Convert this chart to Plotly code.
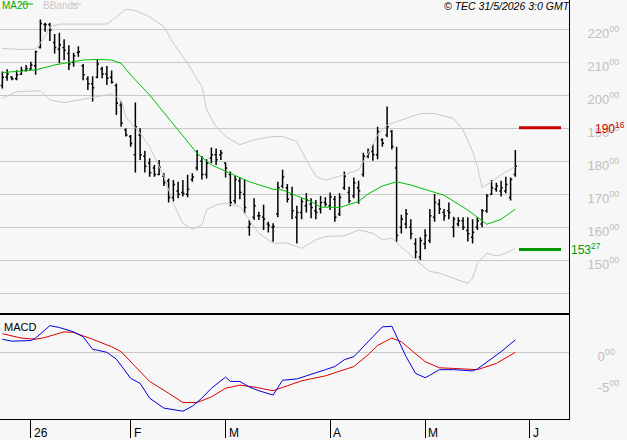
import plotly.graph_objects as go
from plotly.subplots import make_subplots

# ---------------- data ----------------
highs = [207.2, 207.9, 205.8, 207.6, 208.7, 209.2, 210.2, 213.5, 223.0, 222.0,
         222.0, 218.6, 219.0, 217.0, 215.2, 212.9, 214.9, 209.5, 205.8, 205.8,
         210.9, 208.7, 208.9, 207.5, 203.6, 198.1, 190.0, 188.0, 197.8, 190.0,
         183.2, 180.9, 178.9, 180.4, 176.4, 174.8, 174.3, 173.8, 174.3, 175.9,
         176.4, 183.4, 181.6, 180.6, 184.2, 183.9, 183.4, 179.6, 176.9, 175.6,
         175.1, 174.5, 162.2, 168.8, 164.7, 166.8, 161.7, 161.2, 173.8, 177.4,
         173.1, 172.3, 166.5, 168.8, 170.4, 168.8, 168.3, 169.5, 169.1, 170.5,
         169.5, 170.3, 176.9, 172.3, 175.1, 174.1, 182.6, 183.9, 185.2, 190.5,
         187.0, 196.6, 189.5, 184.4, 163.8, 165.5, 162.4, 156.7, 157.0, 159.4,
         165.5, 170.1, 168.5, 165.5, 167.5, 163.2, 163.0, 163.0, 163.0, 162.4,
         163.0, 165.5, 170.1, 174.3, 173.5, 174.1, 175.3, 175.1, 183.4]
lows = [202.1, 204.4, 204.6, 204.6, 206.2, 207.2, 207.7, 206.2, 214.2, 219.3,
        216.5, 212.7, 209.7, 210.7, 207.7, 208.7, 211.7, 204.6, 201.6, 198.1,
        205.2, 205.2, 203.1, 203.6, 194.0, 190.5, 187.5, 184.4, 176.6, 180.4,
        176.6, 175.3, 175.3, 175.8, 172.5, 167.5, 167.8, 168.8, 169.3, 169.1,
        173.8, 177.2, 174.5, 174.8, 179.4, 178.9, 180.4, 175.1, 166.4, 167.1,
        168.5, 164.2, 157.4, 162.2, 162.2, 159.2, 158.4, 155.6, 163.0, 171.8,
        167.5, 162.4, 155.1, 162.4, 164.5, 162.7, 162.4, 164.2, 166.3, 165.2,
        161.7, 163.4, 171.3, 167.3, 168.8, 167.1, 175.3, 180.9, 180.2, 180.6,
        184.4, 187.3, 183.6, 155.6, 158.1, 159.6, 156.4, 150.6, 150.1, 153.3,
        155.2, 161.7, 164.0, 162.0, 162.4, 157.0, 160.2, 159.2, 155.7, 155.1,
        159.2, 160.0, 164.4, 169.8, 170.8, 169.3, 170.3, 168.1, 175.3]
opens = [203.0, 205.5, 205.5, 205.0, 206.4, 207.5, 208.0, 209.0, 214.5, 221.5,
         221.5, 216.0, 214.0, 214.5, 212.7, 210.0, 213.0, 209.0, 205.0, 203.5,
         205.5, 208.0, 206.5, 205.5, 203.0, 197.0, 189.5, 187.5, 182.0, 188.0,
         181.5, 179.5, 178.0, 176.0, 175.5, 174.0, 169.0, 171.0, 170.5, 170.0,
         174.5, 178.0, 180.0, 176.0, 181.0, 182.0, 182.0, 179.5, 176.0, 168.0,
         174.0, 170.0, 160.0, 163.0, 163.5, 163.0, 161.0, 160.0, 164.0, 172.5,
         172.0, 170.0, 163.0, 164.5, 166.5, 167.0, 165.0, 165.5, 167.5, 166.5,
         168.5, 164.0, 172.0, 170.5, 169.5, 172.0, 176.0, 181.5, 183.0, 182.0,
         186.5, 188.0, 189.0, 178.0, 160.0, 161.0, 160.0, 155.0, 151.0, 155.0,
         156.0, 163.0, 167.0, 164.5, 165.0, 160.0, 161.0, 162.0, 159.0, 157.0,
         160.0, 161.0, 165.0, 170.0, 171.5, 171.0, 171.0, 169.0, 176.0]
closes = [205.5, 206.5, 205.0, 206.2, 207.6, 208.1, 209.2, 213.2, 221.8, 221.5,
          219.7, 214.5, 215.3, 213.7, 209.5, 212.0, 213.2, 206.2, 203.5, 202.3,
          209.5, 206.5, 205.2, 204.0, 197.6, 191.5, 188.0, 185.4, 190.5, 182.0,
          178.5, 176.5, 176.0, 178.3, 173.5, 169.0, 173.0, 170.0, 170.2, 171.5,
          175.2, 182.0, 176.0, 179.5, 182.0, 180.5, 182.5, 178.0, 167.5, 174.5,
          170.5, 166.0, 161.0, 166.5, 163.5, 162.5, 160.5, 160.2, 172.0, 175.2,
          168.5, 165.0, 164.5, 167.8, 168.3, 166.0, 164.5, 167.5, 167.0, 169.2,
          163.0, 169.0, 175.5, 168.0, 173.5, 171.0, 181.5, 182.5, 182.0, 189.0,
          185.5, 190.5, 184.5, 157.5, 162.5, 164.0, 158.0, 152.5, 156.0, 157.5,
          163.5, 167.5, 165.5, 163.5, 164.5, 162.5, 162.0, 160.0, 158.0, 158.5,
          162.0, 165.0, 169.5, 172.0, 172.5, 172.0, 173.0, 174.5, 178.5]

ma20_idx = [0, 3, 7, 11, 14, 17, 20, 23, 25, 27, 31, 35, 38, 41, 44, 46, 48, 52,
            57, 59, 62, 65, 67, 71, 75, 77, 80, 83, 86, 91, 93, 98, 102, 105, 108]
ma20_val = [206.9, 207.2, 207.7, 209.2, 210.0, 210.7, 210.9, 210.7, 209.7, 206.2,
            200.1, 193.0, 187.5, 182.4, 178.9, 177.6, 176.2, 173.8, 171.5, 171.3,
            169.5, 167.8, 166.1, 166.0, 167.8, 170.1, 172.5, 173.8, 172.8, 170.5,
            169.7, 165.2, 160.9, 162.4, 165.5]

bb_up_idx = [0, 4, 7, 9, 10, 12, 16, 22, 24, 26, 28, 31, 34, 36, 39, 42, 43, 45,
             47, 50, 53, 57, 59, 62, 64, 66, 68, 72, 75, 77, 79, 81, 84, 88, 91,
             95, 97, 99, 100, 101, 103, 105, 108]
bb_up_val = [214.2, 213.9, 214.0, 217.8, 220.8, 221.6, 221.6, 221.6, 223.8, 226.1,
             225.7, 223.8, 220.8, 215.8, 209.7, 202.6, 195.6, 190.5, 187.5, 185.0,
             186.5, 187.5, 187.5, 186.0, 180.4, 175.4, 174.3, 175.9, 177.4, 182.4,
             188.0, 191.0, 192.5, 194.5, 194.5, 193.0, 189.5, 183.0, 178.5, 172.0,
             173.8, 175.9, 178.4]

bb_lo_idx = [0, 3, 8, 10, 13, 16, 20, 23, 25, 26, 29, 31, 34, 36, 38, 40, 42, 43,
             45, 47, 50, 52, 54, 57, 60, 63, 66, 68, 72, 75, 78, 80, 82, 84, 87,
             90, 92, 95, 98, 99, 100, 102, 104, 106, 108]
bb_lo_val = [199.1, 201.1, 201.4, 198.6, 197.8, 198.6, 199.5, 200.4, 198.6, 193.5,
             188.5, 184.4, 175.4, 167.3, 161.2, 159.4, 160.7, 165.3, 166.8, 167.3,
             166.3, 162.2, 158.2, 155.2, 155.2, 153.6, 156.2, 157.2, 157.4, 159.2,
             158.2, 156.2, 156.7, 154.1, 150.1, 146.6, 146.1, 144.5, 143.0, 144.5,
             149.1, 152.1, 151.3, 152.1, 153.6]

macd_idx = [0, 2, 6, 7, 10, 12, 15, 17, 19, 22, 24, 27, 29, 31, 34, 36, 38, 40,
            42, 44, 47, 48, 50, 52, 54, 57, 59, 62, 65, 68, 70, 72, 74, 77, 80,
            82, 83, 85, 87, 89, 90, 92, 95, 99, 100, 105, 108]
macd_val = [2.1, 1.8, 1.9, 2.3, 4.3, 4.0, 3.3, 2.5, 0.5, 0.0, -1.1, -4.2, -5.0,
            -7.4, -9.0, -9.3, -9.5, -8.7, -7.4, -5.8, -4.0, -4.7, -4.7, -5.6,
            -6.2, -6.9, -4.5, -4.3, -3.5, -2.8, -2.3, -1.2, -0.7, 1.7, 4.1, 4.2,
            2.5, -0.7, -3.4, -4.1, -3.7, -2.8, -2.8, -3.0, -2.7, 0.1, 2.0]

signal_idx = [0, 4, 7, 9, 13, 15, 19, 23, 25, 28, 31, 35, 38, 41, 44, 47, 50, 53,
              57, 60, 63, 68, 74, 77, 79, 82, 84, 89, 92, 95, 100, 104, 108]
signal_val = [3.0, 2.3, 2.1, 2.4, 3.3, 3.2, 2.1, 0.9, 0.1, -2.3, -4.7, -6.6, -8.1,
              -8.1, -7.2, -5.8, -5.3, -5.6, -6.2, -5.4, -4.6, -3.8, -2.3, -0.4,
              1.1, 2.3, 1.7, -1.5, -2.5, -2.6, -2.8, -1.8, 0.0]

month_idx = [6, 27, 47, 69, 89, 111]
month_labels = ["26", "F", "M", "A", "M", "J"]

price_ticks = [140, 150, 160, 170, 180, 190, 200, 210, 220]
price_ticktext = ["" if v == 140 else f"{v}<sup>00</sup>" for v in price_ticks]
macd_ticks = [0, -5]
macd_ticktext = ["0<sup>00</sup>", "-5<sup>00</sup>"]

resistance = 190.16
support = 153.27

# ---------------- figure ----------------
FONT = "Liberation Sans, Arial, sans-serif"
BG = "#f7f7f7"
x = list(range(len(closes)))

fig = make_subplots(rows=2, cols=1, shared_xaxes=True, vertical_spacing=0,
                    row_heights=[314, 105])

fig.add_trace(go.Scatter(x=bb_up_idx, y=bb_up_val, mode="lines",
                         line=dict(color="#c8c8c8", width=1), hoverinfo="skip"), row=1, col=1)
fig.add_trace(go.Scatter(x=bb_lo_idx, y=bb_lo_val, mode="lines",
                         line=dict(color="#c8c8c8", width=1), hoverinfo="skip"), row=1, col=1)
fig.add_trace(go.Scatter(x=ma20_idx, y=ma20_val, mode="lines",
                         line=dict(color="#00c000", width=1), hoverinfo="skip"), row=1, col=1)
fig.add_trace(go.Ohlc(x=x, open=opens, high=highs, low=lows, close=closes,
                      increasing=dict(line=dict(color="black", width=1.5)),
                      decreasing=dict(line=dict(color="black", width=1.5)),
                      tickwidth=0.35), row=1, col=1)

fig.add_trace(go.Scatter(x=signal_idx, y=signal_val, mode="lines",
                         line=dict(color="#dd0000", width=1)), row=2, col=1)
fig.add_trace(go.Scatter(x=macd_idx, y=macd_val, mode="lines",
                         line=dict(color="#0000dd", width=1)), row=2, col=1)

xr = [-0.5, 119.3]
fig.update_layout(
    width=627, height=440,
    margin=dict(l=0, r=58, t=0, b=21),
    paper_bgcolor=BG, plot_bgcolor=BG,
    showlegend=False,
    font=dict(family=FONT, size=12, color="black"),
    xaxis=dict(range=xr, showgrid=False, zeroline=False, showticklabels=False,
               rangeslider=dict(visible=False), fixedrange=True),
    xaxis2=dict(range=xr, showgrid=False, zeroline=False, showticklabels=False,
                tickmode="array", tickvals=month_idx, ticks="outside", ticklen=18,
                tickcolor="black", tickwidth=1, showline=True, linecolor="black",
                linewidth=1),
    yaxis=dict(side="right", range=[133.7, 228.9], tickmode="array",
               tickvals=price_ticks, ticktext=price_ticktext, showgrid=True,
               gridcolor="#c8c8c8", gridwidth=1, zeroline=False, showline=True,
               linecolor="black", linewidth=1, ticks="",
               tickfont=dict(color="#c0c0c0", size=13, family=FONT),
               ticklabelstandoff=15, ticklabelshift=4),
    yaxis2=dict(side="right", range=[-10.76, 6.18], tickmode="array",
                tickvals=macd_ticks, ticktext=macd_ticktext, showgrid=False,
                zeroline=True, zerolinecolor="#c8c8c8", zerolinewidth=1,
                showline=True, linecolor="black", linewidth=1, ticks="",
                tickfont=dict(color="#c0c0c0", size=13, family=FONT),
                ticklabelstandoff=25, ticklabelshift=4),
)

# separator between panels
sep = 105 / 419
fig.add_shape(type="line", xref="paper", yref="paper", x0=0, x1=1, y0=sep, y1=sep,
              line=dict(color="black", width=2))

# support / resistance levels
fig.add_shape(type="line", xref="paper", yref="y", x0=519 / 569, x1=561 / 569,
              y0=resistance, y1=resistance, line=dict(color="#cc0000", width=3))
fig.add_shape(type="line", xref="paper", yref="y", x0=519 / 569, x1=561 / 569,
              y0=support, y1=support, line=dict(color="#009900", width=3))
fig.add_annotation(xref="paper", yref="y", x=593 / 569, y=resistance, xanchor="left",
                   yanchor="middle", showarrow=False,
                   text="%d<sup>%02d</sup>" % (int(resistance), round((resistance % 1) * 100)),
                   font=dict(color="#cc0000", size=12, family=FONT))
fig.add_annotation(xref="paper", yref="y", x=569 / 569, y=support, xanchor="left",
                   yanchor="middle", showarrow=False,
                   text="%d<sup>%02d</sup>" % (int(support), round((support % 1) * 100)),
                   font=dict(color="#009900", size=12, family=FONT))

# month labels
for mi, lab in zip(month_idx, month_labels):
    fig.add_annotation(xref="x2", yref="paper", x=mi, y=0, xanchor="left",
                       yanchor="middle", xshift=1, yshift=-14, showarrow=False,
                       text=lab, font=dict(size=12, color="black", family=FONT))

# MACD panel title
fig.add_annotation(xref="paper", yref="paper", x=2 / 569, y=sep, xanchor="left",
                   yanchor="top", yshift=-5, showarrow=False, text="MACD",
                   font=dict(size=11, color="black", family=FONT))

# legend (top-left)
fig.add_annotation(xref="paper", yref="paper", x=0, y=1, xanchor="left", yanchor="top",
                   showarrow=False, text="MA20", font=dict(color="#00b000", size=10, family=FONT),
                   yshift=2)
fig.add_shape(type="line", xref="paper", yref="paper", x0=22 / 569, x1=33 / 569,
              y0=1 - 4 / 419, y1=1 - 4 / 419, line=dict(color="#00c000", width=1))
fig.add_annotation(xref="paper", yref="paper", x=41 / 569, y=1, xanchor="left", yanchor="top",
                   showarrow=False, text="BBands", font=dict(color="#c8c8c8", size=10, family=FONT),
                   yshift=2)
fig.add_shape(type="line", xref="paper", yref="paper", x0=72 / 569, x1=81 / 569,
              y0=1 - 4 / 419, y1=1 - 4 / 419, line=dict(color="#c8c8c8", width=1))

# copyright stamp
fig.add_annotation(xref="paper", yref="paper", x=573 / 569, y=1, xanchor="right",
                   yanchor="top", showarrow=False, yshift=2,
                   text="<i>© TEC 31/5/2026 3:0 GMT</i>",
                   font=dict(color="black", size=10.5, family=FONT))

fig.write_html("out.html")
